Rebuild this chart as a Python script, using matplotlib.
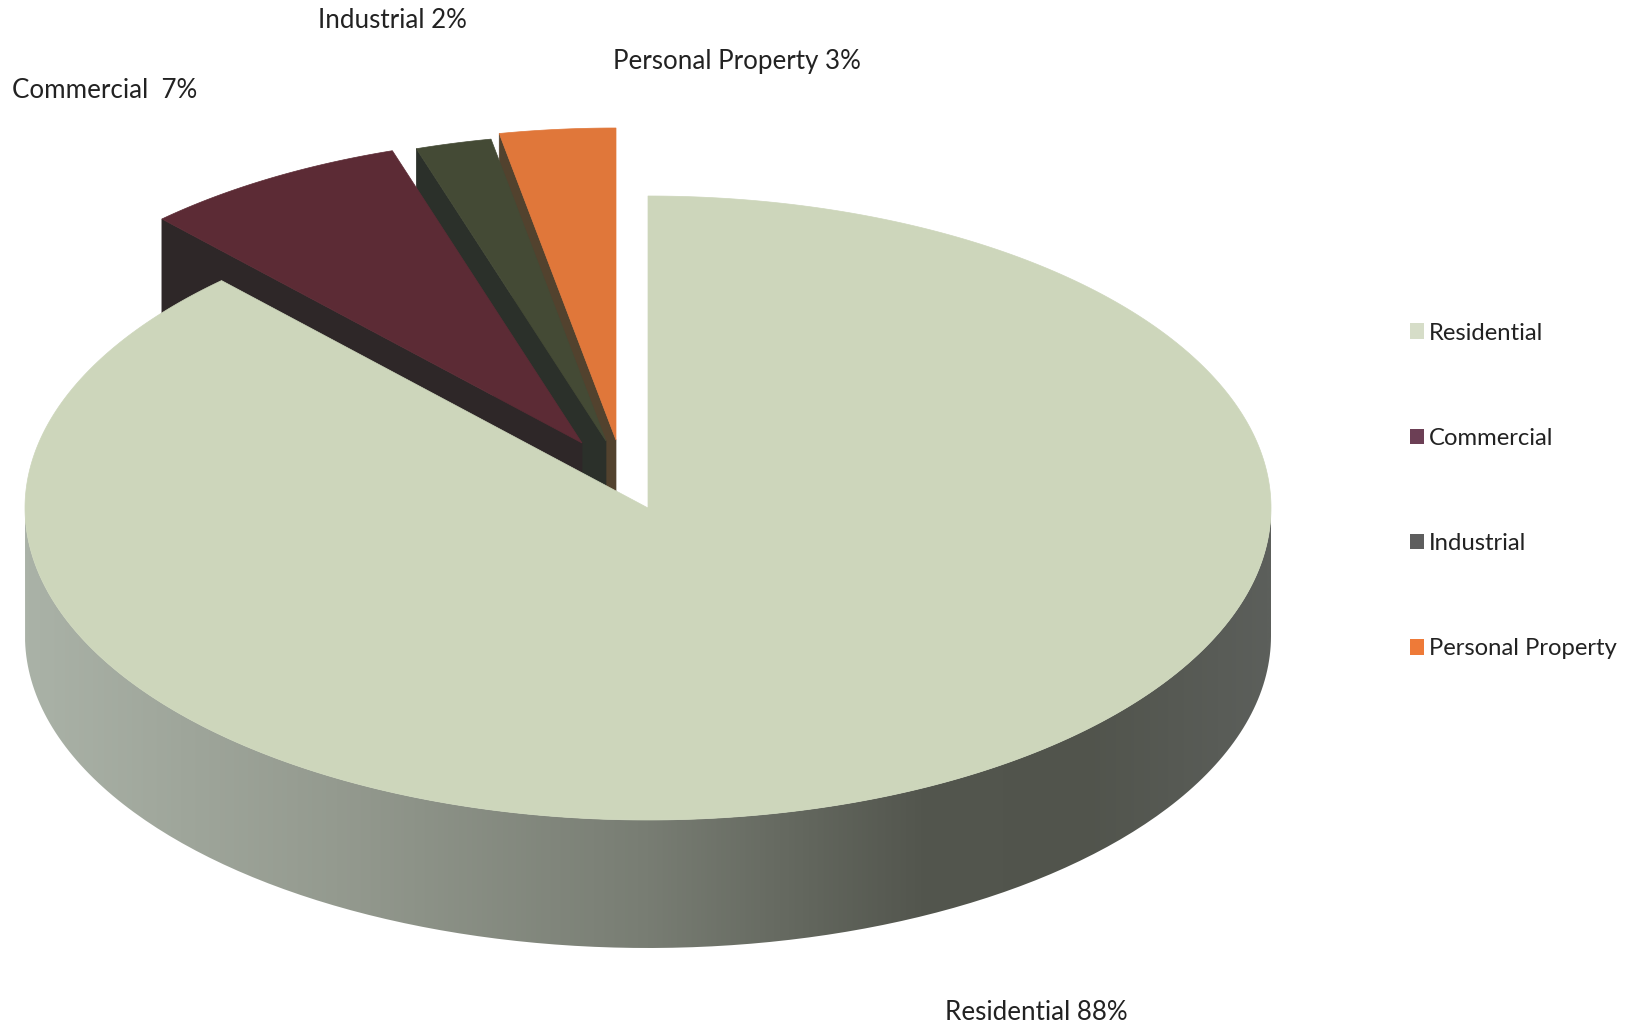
import numpy as np
import matplotlib
matplotlib.use("Agg")
import matplotlib.pyplot as plt
from matplotlib.colors import LinearSegmentedColormap
from matplotlib.patches import Patch, PathPatch, Polygon
from matplotlib.path import Path

plt.rcParams["font.family"] = ["Lato", "DejaVu Sans"]

# share of each property class, clockwise from 12 o'clock
categories = ["Residential", "Commercial", "Industrial", "Personal Property"]
shares = [88, 7, 2, 3]
pie_labels = ["Residential 88%", "Commercial  7%", "Industrial 2%", "Personal Property 3%"]

top_colors = ["#cdd6bb", "#5c2b35", "#444a35", "#e0773a"]
wall_colors = ["#6d7169", "#2e2728", "#2b302a", "#52422e"]
legend_colors = ["#d6ddc8", "#6c3f55", "#5e5e5e", "#ee7a38"]

# pie geometry in pixels
CX, CY = 648, 508
RX, RY = 623, 312
DEPTH = 128
# how far each slice is pulled out of the pie, and its radius relative to the big one
offsets = [(0, 0), (-66, -65), (-42, -67), (-32, -68)]
radius_scale = [1, 0.985, 0.985, 1]
label_pos = [(945, 1012), (12, 90), (318, 21), (613, 61)]


def rim(start, end, scale=1.0, n=200):
    # points on the rim between two clockwise angles (degrees from 12 o'clock)
    t = np.radians(np.linspace(start, end, n))
    return np.column_stack([CX + scale * RX * np.sin(t), CY - scale * RY * np.cos(t)])


def draw_slice(ax, start, end, offset, scale, top, wall):
    pts = rim(start, end, scale) + offset
    apex = np.array([CX, CY]) + offset
    down = np.array([0, DEPTH])
    # side wall along the left cut of the slice
    corner = pts[0]
    ax.add_patch(Polygon([corner, apex, apex + down, corner + down], fc=wall, ec=wall, lw=0.5))
    ax.add_patch(Polygon(np.vstack([apex, pts]), fc=top, ec=top, lw=0.5))


fig = plt.figure(figsize=(16.37, 10.27), dpi=100)
ax = fig.add_axes([0, 0, 1, 1])
ax.set_xlim(0, 1637)
ax.set_ylim(1027, 0)
ax.axis("off")

angles = np.cumsum([0] + shares) * 3.6

# back slices first, the big one covers their walls
for i in [3, 2, 1]:
    draw_slice(ax, angles[i], angles[i + 1], np.array(offsets[i]), radius_scale[i],
               top_colors[i], wall_colors[i])

# curved wall of the big slice, shaded left to right
front = rim(90, 270)
wall_path = Path(np.vstack([front, front[::-1] + [0, DEPTH], front[:1]]))
shade = LinearSegmentedColormap.from_list(
    "wall", [(0, "#aab2a7"), (0.25, "#949a8f"), (0.5, "#787d73"),
             (0.72, "#53564e"), (0.85, "#51544c"), (1, "#5c5f5b")]
)
img = ax.imshow(np.linspace(0, 1, 512)[None, :], cmap=shade, aspect="auto",
                extent=[CX - RX, CX + RX, CY + RY + DEPTH, CY], zorder=2)
clip = PathPatch(wall_path, fc="none", ec="none", transform=ax.transData)
ax.add_patch(clip)
img.set_clip_path(clip)
ax.set_xlim(0, 1637)
ax.set_ylim(1027, 0)

main = np.vstack([[CX, CY], rim(angles[0], angles[1], n=600)])
ax.add_patch(Polygon(main, fc=top_colors[0], ec=top_colors[0], lw=0.5, zorder=3))

for text, (x, y) in zip(pie_labels, label_pos):
    ax.text(x, y, text, fontsize=18.7, color="#222222", va="center", ha="left", zorder=4)

handles = [Patch(fc=c, ec="none") for c in legend_colors]
ax.legend(handles, categories, loc="upper left", bbox_to_anchor=(1409.5 / 1637, 1 - 322.5 / 1027),
          frameon=False, fontsize=17.2, labelcolor="#222222", labelspacing=3.53,
          handlelength=0.62, handleheight=0.62, handletextpad=0.21, borderpad=0, borderaxespad=0)

fig.savefig("out.png", dpi=100)
